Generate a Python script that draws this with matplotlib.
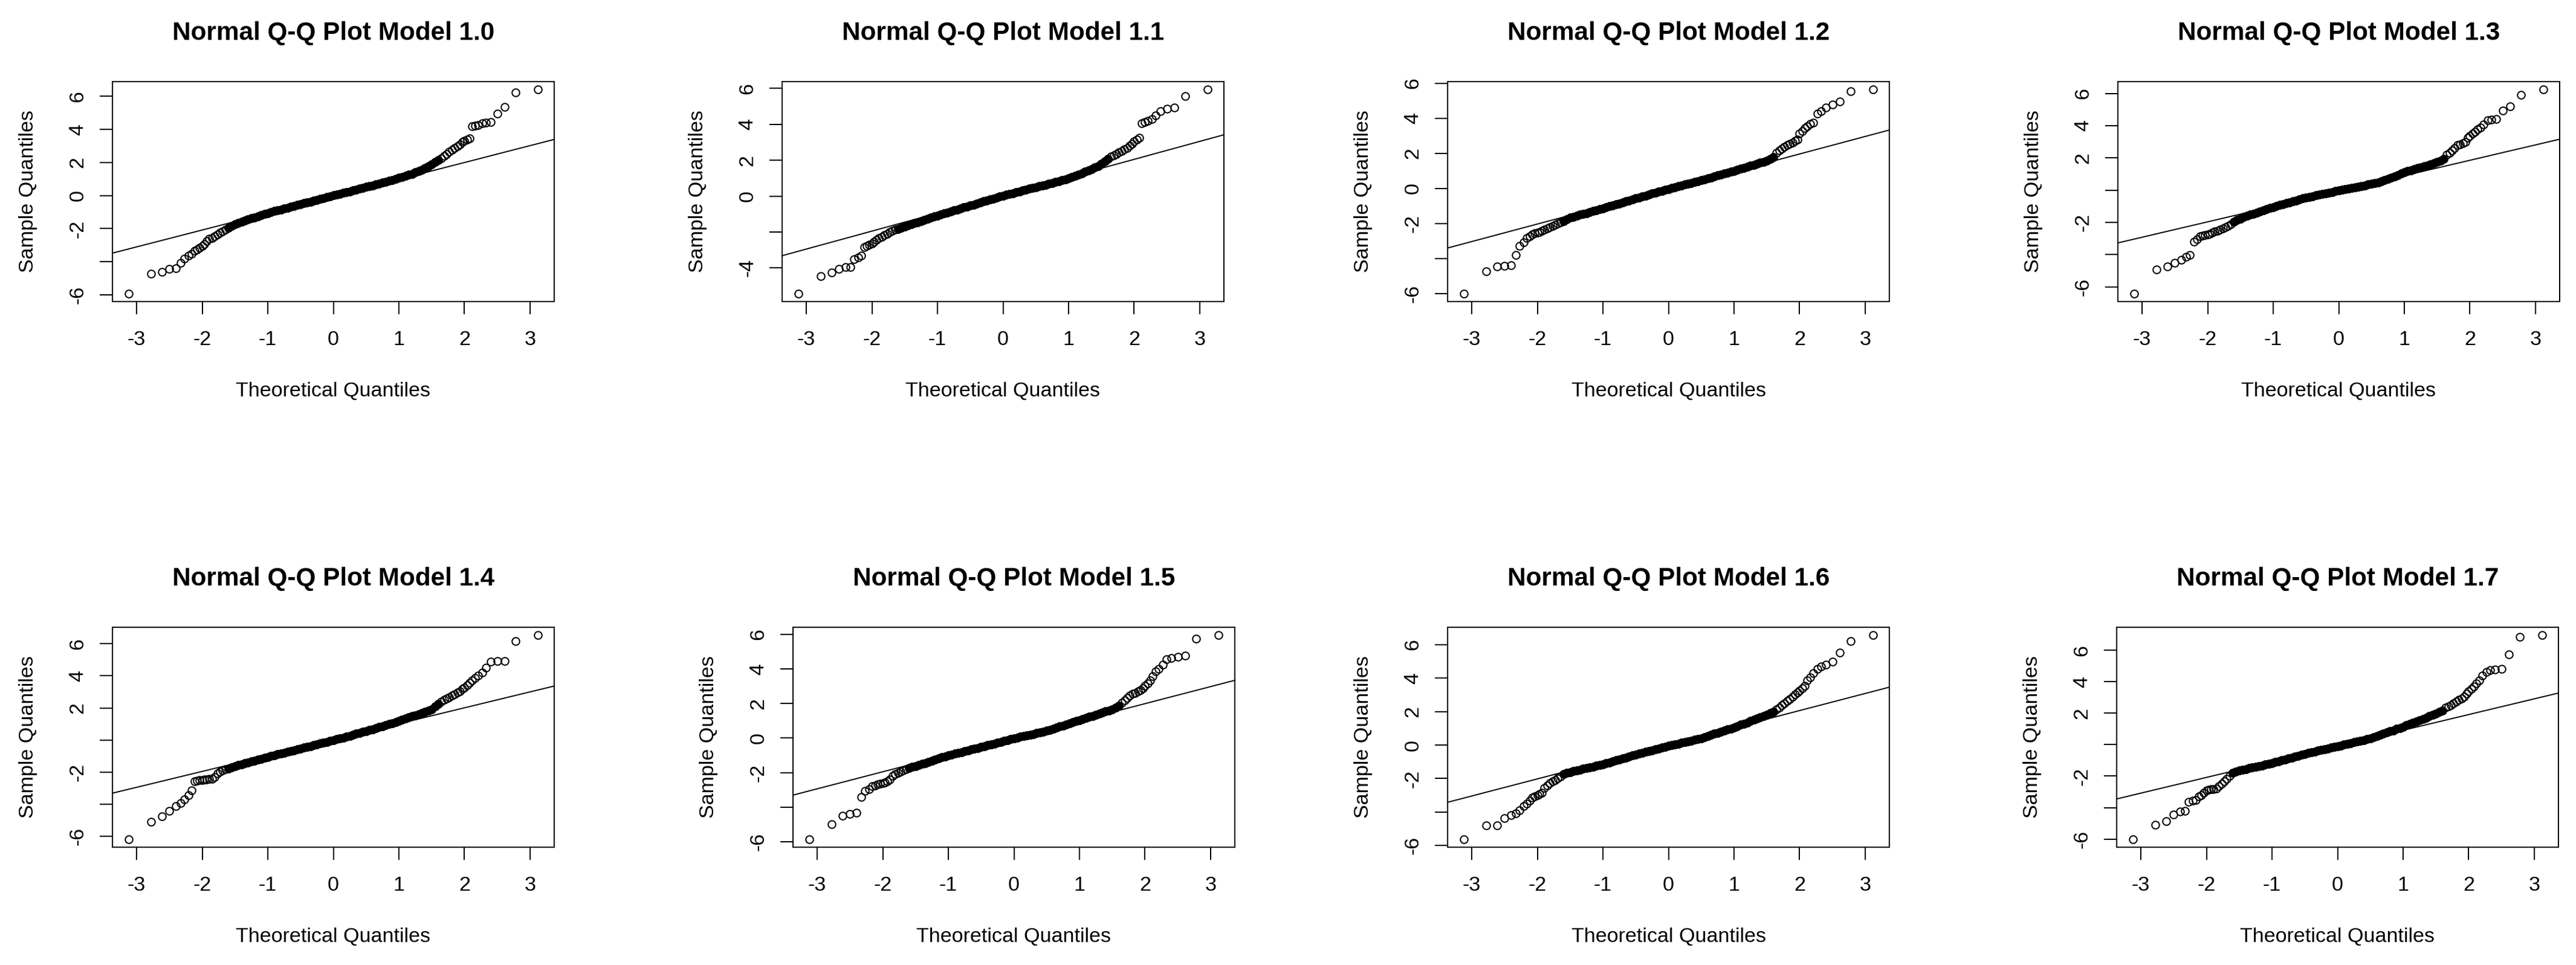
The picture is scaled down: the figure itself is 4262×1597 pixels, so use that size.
import matplotlib
matplotlib.use('Agg')
import matplotlib.pyplot as plt

plt.rcParams['font.family'] = ['Liberation Sans', 'DejaVu Sans']

# theoretical quantiles shared by every panel (tails point by point, band sampled)
theoretical = [
    -3.12, -2.78, -2.61, -2.50, -2.40, -2.33, -2.27, -2.21, -2.16, -2.12, -2.08,
    -2.04, -2.00, -1.97, -1.93, -1.89, -1.85, -1.81, -1.77, -1.73, -1.69, -1.65,
    -1.60, -1.55, -1.50, -1.45, -1.40, -1.35, -1.30, -1.25, -1.20, -1.15, -1.10, -1.05, -1.00,
    -0.95, -0.90, -0.85, -0.80, -0.75, -0.70, -0.65, -0.60, -0.55, -0.50, -0.45, -0.40, -0.35,
    -0.30, -0.25, -0.20, -0.15, -0.10, -0.05, 0.00, 0.05, 0.10, 0.15, 0.20, 0.25, 0.30,
    0.35, 0.40, 0.45, 0.50, 0.55, 0.60, 0.65, 0.70, 0.75, 0.80, 0.85, 0.90, 0.95,
    1.00, 1.05, 1.10, 1.15, 1.20, 1.25, 1.30, 1.35, 1.40, 1.45, 1.50, 1.55, 1.60,
    1.65, 1.69, 1.73, 1.77, 1.81, 1.85, 1.89, 1.93, 1.97, 2.00, 2.04,
    2.08, 2.12, 2.16, 2.21, 2.27, 2.33, 2.40, 2.50, 2.61, 2.78, 3.12,
]

sample_10 = [
    -5.91, -4.71, -4.62, -4.42, -4.40, -4.07, -3.80, -3.62, -3.50, -3.35, -3.25,
    -3.15, -3.05, -2.95, -2.75, -2.62, -2.55, -2.45, -2.35, -2.25, -2.15, -2.05,
    -1.93, -1.83, -1.74, -1.66, -1.59, -1.52, -1.45, -1.38, -1.32, -1.26, -1.19, -1.12, -1.06,
    -1.00, -0.94, -0.89, -0.84, -0.78, -0.73, -0.68, -0.62, -0.57, -0.52, -0.46, -0.41, -0.36,
    -0.31, -0.26, -0.20, -0.15, -0.10, -0.05, 0.01, 0.06, 0.11, 0.16, 0.21, 0.26, 0.31,
    0.36, 0.41, 0.46, 0.52, 0.57, 0.62, 0.67, 0.73, 0.78, 0.84, 0.89, 0.95, 1.01,
    1.07, 1.13, 1.19, 1.25, 1.32, 1.40, 1.48, 1.57, 1.67, 1.78, 1.90, 2.02, 2.14,
    2.27, 2.40, 2.52, 2.64, 2.76, 2.88, 2.98, 3.10, 3.25, 3.30, 3.38,
    3.45, 4.18, 4.22, 4.28, 4.37, 4.41, 4.46, 4.97, 5.35, 6.25, 6.40,
]

sample_11 = [
    -5.42, -4.45, -4.27, -4.07, -3.97, -3.94, -3.50, -3.42, -3.31, -2.85, -2.78,
    -2.70, -2.63, -2.55, -2.45, -2.35, -2.26, -2.18, -2.10, -2.00, -1.94, -1.88,
    -1.82, -1.76, -1.70, -1.64, -1.58, -1.51, -1.45, -1.39, -1.33, -1.26, -1.20, -1.14, -1.08,
    -1.02, -0.97, -0.91, -0.86, -0.80, -0.74, -0.69, -0.63, -0.58, -0.52, -0.47, -0.41, -0.36,
    -0.30, -0.25, -0.19, -0.14, -0.08, -0.03, 0.03, 0.08, 0.12, 0.17, 0.22, 0.27, 0.31,
    0.36, 0.41, 0.45, 0.50, 0.55, 0.59, 0.64, 0.69, 0.74, 0.79, 0.83, 0.88, 0.93,
    0.98, 1.05, 1.12, 1.19, 1.27, 1.35, 1.43, 1.51, 1.59, 1.68, 1.80, 1.94, 2.08,
    2.20, 2.27, 2.35, 2.43, 2.50, 2.60, 2.69, 2.80, 2.90, 3.05, 3.15,
    3.25, 4.05, 4.12, 4.20, 4.30, 4.50, 4.72, 4.88, 4.95, 5.57, 5.93,
]

sample_12 = [
    -6.00, -4.73, -4.48, -4.42, -4.40, -3.80, -3.30, -3.10, -2.85, -2.73, -2.62,
    -2.56, -2.52, -2.49, -2.42, -2.36, -2.29, -2.23, -2.15, -2.08, -2.00, -1.93,
    -1.86, -1.77, -1.68, -1.62, -1.57, -1.51, -1.46, -1.41, -1.35, -1.30, -1.24, -1.19, -1.14,
    -1.08, -1.03, -0.97, -0.92, -0.86, -0.80, -0.75, -0.69, -0.64, -0.58, -0.52, -0.47, -0.41,
    -0.36, -0.30, -0.25, -0.19, -0.14, -0.08, -0.03, 0.02, 0.07, 0.12, 0.17, 0.22, 0.27,
    0.31, 0.36, 0.41, 0.46, 0.51, 0.57, 0.62, 0.68, 0.73, 0.78, 0.84, 0.89, 0.95,
    1.00, 1.06, 1.12, 1.17, 1.23, 1.29, 1.35, 1.41, 1.46, 1.52, 1.58, 1.68, 1.78,
    2.02, 2.16, 2.28, 2.38, 2.48, 2.55, 2.62, 2.70, 2.78, 3.12, 3.25,
    3.45, 3.55, 3.68, 3.75, 4.28, 4.42, 4.62, 4.78, 4.96, 5.56, 5.63,
]

sample_13 = [
    -6.41, -4.92, -4.75, -4.52, -4.33, -4.13, -4.04, -3.20, -3.05, -2.88, -2.82,
    -2.78, -2.74, -2.70, -2.65, -2.58, -2.52, -2.46, -2.38, -2.30, -2.21, -2.10,
    -1.98, -1.87, -1.77, -1.66, -1.58, -1.52, -1.46, -1.40, -1.33, -1.25, -1.18, -1.11, -1.05,
    -0.99, -0.93, -0.87, -0.81, -0.75, -0.69, -0.64, -0.58, -0.52, -0.47, -0.42, -0.38, -0.33,
    -0.29, -0.25, -0.20, -0.16, -0.12, -0.07, -0.03, 0.01, 0.05, 0.09, 0.13, 0.18, 0.22,
    0.26, 0.30, 0.35, 0.39, 0.44, 0.49, 0.55, 0.62, 0.70, 0.78, 0.86, 0.94, 1.02,
    1.11, 1.17, 1.24, 1.30, 1.36, 1.42, 1.48, 1.54, 1.60, 1.67, 1.74, 1.84, 1.93,
    2.18, 2.30, 2.45, 2.62, 2.78, 2.85, 2.92, 3.00, 3.25, 3.35, 3.50,
    3.62, 3.76, 3.90, 4.08, 4.32, 4.36, 4.40, 4.92, 5.21, 5.92, 6.23,
]

sample_14 = [
    -6.16, -5.07, -4.73, -4.40, -4.10, -3.92, -3.70, -3.44, -3.12, -2.55, -2.52,
    -2.50, -2.48, -2.47, -2.45, -2.43, -2.40, -2.30, -2.08, -1.96, -1.88, -1.82,
    -1.76, -1.69, -1.62, -1.56, -1.50, -1.44, -1.39, -1.33, -1.27, -1.22, -1.16, -1.11, -1.05,
    -1.00, -0.94, -0.89, -0.84, -0.79, -0.73, -0.68, -0.63, -0.57, -0.52, -0.47, -0.42, -0.37,
    -0.32, -0.26, -0.21, -0.16, -0.11, -0.05, 0.00, 0.05, 0.11, 0.16, 0.22, 0.27, 0.33,
    0.39, 0.44, 0.50, 0.56, 0.62, 0.68, 0.74, 0.81, 0.87, 0.93, 1.00, 1.06, 1.13,
    1.20, 1.27, 1.34, 1.41, 1.48, 1.55, 1.62, 1.69, 1.76, 1.84, 1.92, 2.08, 2.25,
    2.40, 2.50, 2.58, 2.66, 2.76, 2.85, 2.95, 3.05, 3.20, 3.28, 3.42,
    3.55, 3.72, 3.88, 4.02, 4.22, 4.50, 4.88, 4.92, 4.93, 6.17, 6.52,
]

sample_15 = [
    -5.85, -4.98, -4.50, -4.40, -4.33, -3.40, -3.05, -2.95, -2.80, -2.74, -2.69,
    -2.65, -2.62, -2.58, -2.50, -2.40, -2.20, -2.07, -2.00, -1.93, -1.86, -1.79,
    -1.74, -1.68, -1.63, -1.56, -1.50, -1.44, -1.37, -1.31, -1.25, -1.19, -1.12, -1.06, -1.00,
    -0.95, -0.90, -0.85, -0.81, -0.76, -0.71, -0.66, -0.61, -0.57, -0.52, -0.47, -0.42, -0.37,
    -0.32, -0.27, -0.22, -0.17, -0.12, -0.07, -0.02, 0.02, 0.07, 0.11, 0.16, 0.20, 0.24,
    0.29, 0.33, 0.38, 0.42, 0.48, 0.54, 0.61, 0.67, 0.73, 0.79, 0.86, 0.92, 0.98,
    1.04, 1.10, 1.17, 1.23, 1.29, 1.35, 1.42, 1.48, 1.54, 1.60, 1.67, 1.77, 1.88,
    2.06, 2.20, 2.32, 2.45, 2.56, 2.62, 2.70, 2.78, 2.90, 3.02, 3.18,
    3.35, 3.58, 3.85, 4.02, 4.25, 4.57, 4.62, 4.70, 4.79, 5.77, 5.95,
]

sample_16 = [
    -5.61, -4.80, -4.78, -4.35, -4.20, -4.06, -3.88, -3.66, -3.50, -3.32, -3.15,
    -3.05, -2.98, -2.92, -2.84, -2.55, -2.40, -2.28, -2.17, -2.08, -2.00, -1.88,
    -1.74, -1.67, -1.61, -1.56, -1.52, -1.47, -1.42, -1.38, -1.33, -1.29, -1.24, -1.20, -1.15,
    -1.09, -1.03, -0.97, -0.91, -0.85, -0.79, -0.74, -0.68, -0.62, -0.56, -0.51, -0.46, -0.41,
    -0.36, -0.31, -0.25, -0.20, -0.15, -0.10, -0.05, 0.00, 0.04, 0.09, 0.13, 0.18, 0.22,
    0.27, 0.32, 0.36, 0.41, 0.47, 0.54, 0.60, 0.67, 0.73, 0.80, 0.86, 0.93, 0.99,
    1.06, 1.13, 1.21, 1.28, 1.35, 1.43, 1.50, 1.58, 1.65, 1.72, 1.80, 1.90, 2.00,
    2.12, 2.25, 2.38, 2.50, 2.63, 2.76, 2.90, 3.03, 3.15, 3.25, 3.38,
    3.55, 3.85, 4.05, 4.30, 4.55, 4.70, 4.80, 4.97, 5.52, 6.22, 6.55,
]

sample_17 = [
    -6.00, -5.08, -4.88, -4.43, -4.25, -4.20, -3.65, -3.55, -3.50, -3.30, -3.20,
    -3.05, -2.92, -2.88, -2.84, -2.82, -2.80, -2.62, -2.48, -2.34, -2.18, -1.98,
    -1.80, -1.72, -1.64, -1.59, -1.55, -1.50, -1.45, -1.40, -1.36, -1.31, -1.26, -1.21, -1.16,
    -1.10, -1.04, -0.99, -0.93, -0.87, -0.81, -0.75, -0.70, -0.64, -0.58, -0.53, -0.48, -0.43,
    -0.38, -0.33, -0.28, -0.24, -0.19, -0.14, -0.09, -0.04, 0.01, 0.06, 0.11, 0.16, 0.21,
    0.25, 0.30, 0.35, 0.40, 0.47, 0.55, 0.62, 0.70, 0.77, 0.85, 0.92, 1.00, 1.07,
    1.15, 1.23, 1.31, 1.40, 1.48, 1.56, 1.64, 1.72, 1.81, 1.89, 1.97, 2.08, 2.18,
    2.35, 2.45, 2.52, 2.62, 2.75, 2.85, 2.95, 3.05, 3.25, 3.40, 3.55,
    3.72, 3.90, 4.10, 4.42, 4.62, 4.75, 4.80, 4.82, 5.75, 6.86, 6.96,
]

titles = ['Normal Q-Q Plot Model 1.0', 'Normal Q-Q Plot Model 1.1',
          'Normal Q-Q Plot Model 1.2', 'Normal Q-Q Plot Model 1.3',
          'Normal Q-Q Plot Model 1.4', 'Normal Q-Q Plot Model 1.5',
          'Normal Q-Q Plot Model 1.6', 'Normal Q-Q Plot Model 1.7']
samples = [sample_10, sample_11, sample_12, sample_13,
           sample_14, sample_15, sample_16, sample_17]

# reference lines (qqline)
line_intercepts = [-0.04, 0.05, -0.04, -0.06, 0.03, 0.02, 0.02, -0.08]
line_slopes = [1.02, 1.00, 1.00, 0.955, 0.99, 0.987, 1.02, 1.00]

x_ticks = [-3, -2, -1, 0, 1, 2, 3]
y_ticks_all = [-6, -4, -2, 0, 2, 4, 6]
# R drops y labels that would overlap; these are the ones printed
y_labels_shown = [[6, 4, 2, 0, -2, -6], [6, 4, 2, 0, -4],
                  [6, 4, 2, 0, -2, -6], [6, 4, 2, -2, -6],
                  [6, 4, 2, -2, -6], [6, 4, 2, 0, -2, -6],
                  [6, 4, 2, 0, -2, -6], [6, 4, 2, -2, -6]]

# layout in pixels of the 4262 x 1597 canvas
FIG_W, FIG_H = 4262, 1597
panel_lefts = [186, 1294, 2395, 3504, 186, 1312, 2395, 3502]
panel_tops = [135, 135, 135, 135, 1038, 1038, 1038, 1038]
PANEL_W, PANEL_H = 731, 364

# the sampled middle stretch stands for hundreds of overlapping circles,
# which merge into a solid band in the original
N_TAIL = 22

LABEL_SIZE = 24.5
TITLE_SIZE = 30.4
LW = 1.45

fig = plt.figure(figsize=(FIG_W / 100, FIG_H / 100), dpi=100)
fig.patch.set_facecolor('white')

for i in range(8):
    left = panel_lefts[i] / FIG_W
    bottom = 1 - (panel_tops[i] + PANEL_H) / FIG_H
    ax = fig.add_axes([left, bottom, PANEL_W / FIG_W, PANEL_H / FIG_H])

    ys = samples[i]
    mid = slice(N_TAIL, len(theoretical) - N_TAIL)
    ax.plot(theoretical, ys, linestyle='none', marker='o', markersize=9,
            markerfacecolor='none', markeredgecolor='black', markeredgewidth=LW)
    ax.plot(theoretical[mid], ys[mid], linestyle='none', marker='o', markersize=9,
            markerfacecolor='black', markeredgecolor='black', markeredgewidth=LW)
    ax.margins(x=0.04, y=0.04)
    xlo, xhi = ax.get_xlim()
    ylo, yhi = ax.get_ylim()

    ax.axline((0, line_intercepts[i]), slope=line_slopes[i], color='black', linewidth=1.4)

    yt = [t for t in y_ticks_all if ylo <= t <= yhi]
    ylabs = [str(t) if t in y_labels_shown[i] else '' for t in yt]
    ax.set_xticks(x_ticks, [str(t) for t in x_ticks])
    ax.set_yticks(yt, ylabs, rotation=90, va='center')
    ax.set_xlim(xlo, xhi)
    ax.set_ylim(ylo, yhi)

    for sp in ax.spines.values():
        sp.set_linewidth(LW)
    ax.tick_params(axis='both', direction='out', length=15, width=LW,
                   labelsize=LABEL_SIZE, top=False, right=False)
    ax.tick_params(axis='x', pad=19.5)
    ax.tick_params(axis='y', pad=15)

    ax.set_title(titles[i], fontsize=TITLE_SIZE, fontweight='bold', pad=49.5)
    ax.set_xlabel('Theoretical Quantiles', fontsize=LABEL_SIZE, labelpad=39)
    ax.set_ylabel('Sample Quantiles', fontsize=LABEL_SIZE, labelpad=37)

fig.savefig('out.png', dpi=100, facecolor='white')
